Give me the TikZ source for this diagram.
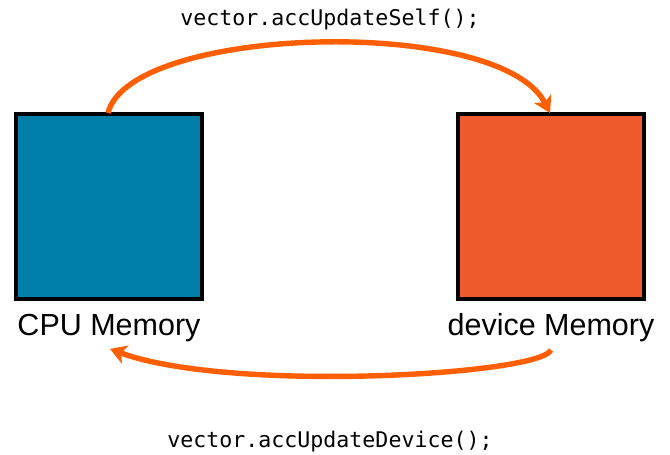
\documentclass[tikz,border=0pt]{standalone}
\usepackage{fontspec}
\setmainfont{Liberation Sans}
\newfontfamily\codefont{DejaVu Sans Mono}
\usetikzlibrary{arrows.meta}
\definecolor{cpublue}{HTML}{0080A8}
\definecolor{devorange}{HTML}{F15A2C}
\definecolor{flow}{HTML}{FF5F00}
\begin{document}
\begin{tikzpicture}[x=1pt,y=1pt,
  membox/.style={draw=black,line width=3.2pt,minimum width=186pt,minimum height=185pt,inner sep=0pt},
  memlabel/.style={font=\fontsize{30.5}{33}\selectfont,inner sep=0pt,anchor=base},
  codelabel/.style={font=\codefont\fontsize{21.6}{24}\selectfont,inner sep=0pt,anchor=base},
  transfer/.style={draw=flow,line width=5.4pt,-{Stealth[length=16pt,width=19pt,inset=4pt]}}]
\useasboundingbox (0,0) rectangle (670,455);
% memory blocks
\node[membox,fill=cpublue] (cpu) at (109,248.5) {};
\node[membox,fill=devorange] (dev) at (551,248.5) {};
\node[memlabel] (cpulbl) at (109,119) {CPU Memory};
\node[memlabel] (devlbl) at (551,119) {device Memory};
% copy calls
\node[codelabel] (self) at (330,429) {vector.accUpdateSelf();};
\node[codelabel] (device) at (330,7) {vector.accUpdateDevice();};
% transfers between the memories
\coordinate (upStart) at (108,342);
\coordinate (upEnd) at (550,342);
\coordinate (downStart) at (551,105);
\coordinate (downEnd) at (110,106);
\draw[transfer] (upStart) .. controls (130,430) and (500,440) .. (upEnd);
\draw[transfer] (downStart) .. controls (540,80) and (230,62) .. (downEnd);
\end{tikzpicture}
\end{document}
